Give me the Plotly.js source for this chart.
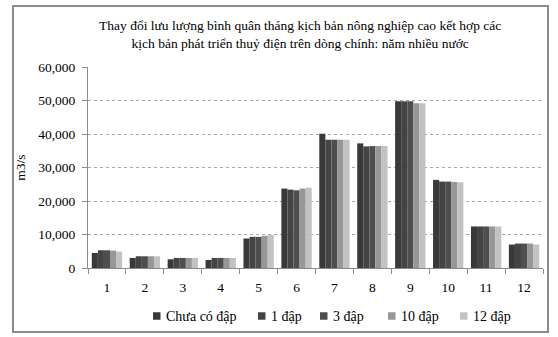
<!DOCTYPE html>
<html>
<head>
<meta charset="utf-8">
<script src="https://cdn.plot.ly/plotly-3.0.1.min.js"></script>
<style>
  html, body { margin: 0; padding: 0; background: #fff; }
  #wrap { position: relative; width: 558px; height: 337px; }
  #chart { width: 558px; height: 337px; }
  #frame { position: absolute; left: 12px; top: 5px; width: 533px; height: 324px;
           border: 2px solid #8c8c8c; pointer-events: none; }
</style>
</head>
<body>
<div id="wrap">
  <div id="chart"></div>
  <div id="frame"></div>
</div>
<script>
// Monthly mean discharge (m3/s), high-agriculture scenario, wet year
const months = ['1', '2', '3', '4', '5', '6', '7', '8', '9', '10', '11', '12'];
const seriesNames = ['Chưa có đập', '1 đập', '3 đập', '10 đập', '12 đập'];
const noDam   = [4500, 3000, 2600, 2400, 8800, 23700, 40100, 37200, 49800, 26300, 12400, 7000];
const dam1    = [5300, 3500, 3000, 3000, 9300, 23400, 38300, 36300, 49800, 25800, 12400, 7300];
const dam3    = [5300, 3500, 3000, 3000, 9300, 23200, 38300, 36400, 49800, 25800, 12400, 7300];
const dam10   = [5200, 3500, 3000, 3000, 9600, 23700, 38300, 36400, 49200, 25700, 12400, 7300];
const dam12   = [4900, 3500, 3000, 3000, 9900, 24000, 38300, 36400, 49200, 25600, 12400, 7000];
const yTicks  = [0, 10000, 20000, 30000, 40000, 50000, 60000];

const colors = ['#393939', '#444444', '#4e4e4e', '#979797', '#c2c2c2'];
const values = [noDam, dam1, dam3, dam10, dam12];

// plot-area geometry in pixels
const W = 558, H = 337;
const M = { l: 88, r: 15, t: 67, b: 69 };
const plotW = W - M.l - M.r, plotH = H - M.t - M.b;
const px2x = p => (p - M.l) / plotW;
const px2y = p => (H - M.b - p) / plotH;

// legend row below the axis: swatch left edges (px) and row centre
const legendSwatchLeft = [153, 258, 320, 388, 460];
const legendRowY = 316;
const swatch = 7.5, swatchGap = 4;

const traces = values.map((v, i) => ({
  type: 'bar',
  name: seriesNames[i],
  x: months,
  y: v,
  marker: { color: colors[i], line: { width: 0 } },
  hoverinfo: 'x+y+name'
}));

const fam = 'Liberation Serif, Times New Roman, serif';
const f = size => ({ family: fam, size: size, color: '#000' });

const shapes = [], annotations = [];
seriesNames.forEach((name, i) => {
  const left = legendSwatchLeft[i];
  shapes.push({
    type: 'rect', xref: 'paper', yref: 'paper', layer: 'above',
    x0: px2x(left), x1: px2x(left + swatch),
    y0: px2y(legendRowY + swatch / 2), y1: px2y(legendRowY - swatch / 2),
    fillcolor: colors[i], line: { width: 0 }
  });
  annotations.push({
    xref: 'paper', yref: 'paper',
    x: px2x(left + swatch + swatchGap), y: px2y(legendRowY),
    xanchor: 'left', yanchor: 'middle',
    text: name, showarrow: false, font: f(14), borderpad: 0
  });
});

const layout = {
  width: W,
  height: H,
  margin: M,
  paper_bgcolor: '#fff',
  plot_bgcolor: '#fff',
  font: f(13),
  title: {
    text: 'Thay đổi lưu lượng bình quân tháng kịch bản nông nghiệp cao kết hợp các<br>kịch bản phát triển thuỷ điện trên dòng chính: năm nhiều nước',
    font: f(13.5),
    xref: 'container', x: 0.538, xanchor: 'center',
    yref: 'container', y: 0.911, yanchor: 'top'
  },
  barmode: 'group',
  bargap: 0.2,
  bargroupgap: 0,
  showlegend: false,
  shapes: shapes,
  annotations: annotations,
  xaxis: {
    type: 'category',
    showline: true, linecolor: '#8c8c8c', linewidth: 1,
    ticks: 'outside', tickson: 'boundaries', ticklen: 5, tickcolor: '#8c8c8c',
    ticklabelstandoff: 7,
    showgrid: false,
    tickfont: f(13.5),
    fixedrange: true
  },
  yaxis: {
    range: [0, 60000],
    tickvals: yTicks,
    tickformat: ',',
    showline: true, linecolor: '#8c8c8c', linewidth: 1,
    ticks: 'outside', ticklen: 5, tickcolor: '#8c8c8c',
    ticklabelstandoff: 4,
    showgrid: true, gridcolor: '#a8a8a8', griddash: 'dot', gridwidth: 1,
    zeroline: false,
    tickfont: f(13.5),
    title: { text: 'm3/s', font: f(13.5), standoff: 9 },
    fixedrange: true
  }
};

Plotly.newPlot('chart', traces, layout, { displayModeBar: false, staticPlot: true });
</script>
</body>
</html>
